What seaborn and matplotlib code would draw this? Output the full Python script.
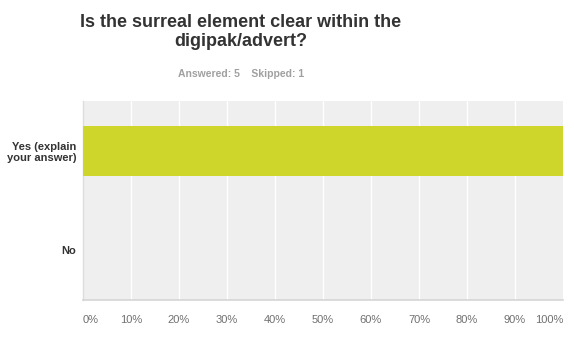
import matplotlib
matplotlib.use("Agg")
import matplotlib.pyplot as plt
import seaborn as sns
import pandas as pd

categories = ["Yes (explain\nyour answer)", "No"]
values = [100, 0]
tick_vals = [0, 10, 20, 30, 40, 50, 60, 70, 80, 90, 100]
tick_labels = ["0%", "10%", "20%", "30%", "40%", "50%", "60%", "70%", "80%", "90%", "100%"]
title = "Is the surreal element clear within the\ndigipak/advert?"
subtitle = "Answered: 5    Skipped: 1"

sns.set_theme(style="white")
plt.rcParams["font.family"] = ["Liberation Sans", "DejaVu Sans"]

df = pd.DataFrame({"cat": categories, "val": values})

fig = plt.figure(figsize=(5.74, 3.4), dpi=100)
ax = fig.add_axes([83 / 574, 1 - 300 / 340, 480 / 574, 199 / 340])
ax.set_facecolor("#EFEFEF")

sns.barplot(data=df, x="val", y="cat", orient="h", color="#CED52B",
            width=0.5, saturation=1, linewidth=0, ax=ax, zorder=3)

ax.set_xlim(0, 100)
ax.set_ylim(1.5, -0.5)
ax.set_xticks(tick_vals)
ax.set_xticklabels(tick_labels, color="#707070", fontsize=8)
labs = ax.get_xticklabels()
labs[0].set_ha("left")
labs[-1].set_ha("right")
for v in tick_vals[1:-1]:
    ax.axvline(v, color="white", lw=1.0, zorder=1)
ax.tick_params(axis="x", length=0, pad=11)
ax.tick_params(axis="y", length=0, pad=5)
for t in ax.get_yticklabels():
    t.set_fontweight("bold")
    t.set_color("#333333")
    t.set_fontsize(8)
    t.set_linespacing(1.15)
ax.set_xlabel("")
ax.set_ylabel("")
for s in ["top", "right"]:
    ax.spines[s].set_visible(False)
ax.spines["left"].set_color("#DDDDDD")
ax.spines["bottom"].set_color("#D5D5D5")
ax.spines["bottom"].set_linewidth(1.2)
ax.spines["left"].set_linewidth(1.0)

fig.text(241 / 574, 1 - 32 / 340, title, ha="center", va="center",
         fontsize=13, fontweight="bold", color="#333333", linespacing=1.1)
fig.text(241 / 574, 1 - 74 / 340, subtitle, ha="center", va="center",
         fontsize=7.5, fontweight="bold", color="#A0A0A0")

fig.savefig("out.png", dpi=100)
